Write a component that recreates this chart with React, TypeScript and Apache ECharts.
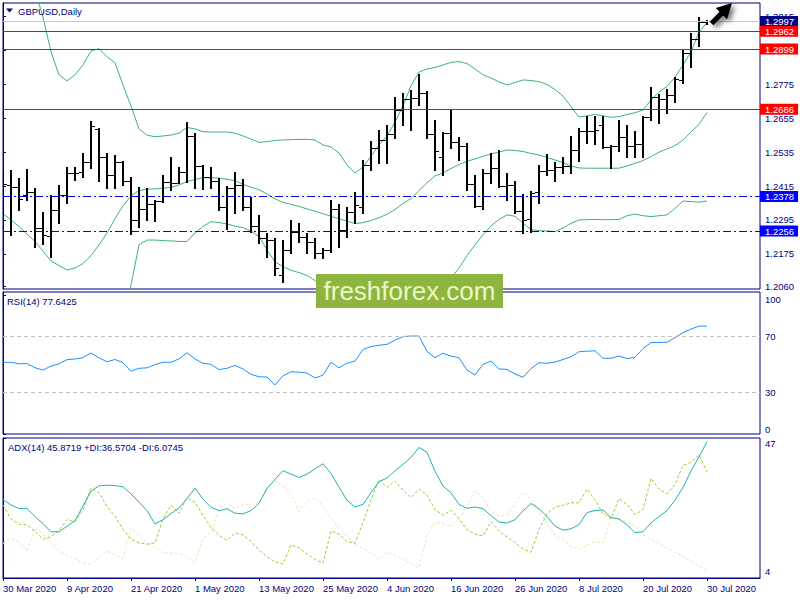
import React, { useEffect, useRef } from "react";
import * as echarts from "echarts";

const dates = [
  "30 Mar 2020", "31 Mar 2020",
  "1 Apr 2020", "2 Apr 2020", "3 Apr 2020", "6 Apr 2020", "7 Apr 2020", "8 Apr 2020", "9 Apr 2020", "10 Apr 2020",
  "13 Apr 2020", "14 Apr 2020", "15 Apr 2020", "16 Apr 2020", "17 Apr 2020", "20 Apr 2020", "21 Apr 2020", "22 Apr 2020",
  "23 Apr 2020", "24 Apr 2020", "27 Apr 2020", "28 Apr 2020", "29 Apr 2020", "30 Apr 2020",
  "1 May 2020", "4 May 2020", "5 May 2020", "6 May 2020", "7 May 2020", "8 May 2020", "11 May 2020", "12 May 2020",
  "13 May 2020", "14 May 2020", "15 May 2020", "18 May 2020", "19 May 2020", "20 May 2020", "21 May 2020", "22 May 2020",
  "25 May 2020", "26 May 2020", "27 May 2020", "28 May 2020", "29 May 2020",
  "1 Jun 2020", "2 Jun 2020", "3 Jun 2020", "4 Jun 2020", "5 Jun 2020", "8 Jun 2020", "9 Jun 2020", "10 Jun 2020",
  "11 Jun 2020", "12 Jun 2020", "15 Jun 2020", "16 Jun 2020", "17 Jun 2020", "18 Jun 2020", "19 Jun 2020", "22 Jun 2020",
  "23 Jun 2020", "24 Jun 2020", "25 Jun 2020", "26 Jun 2020", "29 Jun 2020", "30 Jun 2020",
  "1 Jul 2020", "2 Jul 2020", "3 Jul 2020", "6 Jul 2020", "7 Jul 2020", "8 Jul 2020", "9 Jul 2020", "10 Jul 2020",
  "13 Jul 2020", "14 Jul 2020", "15 Jul 2020", "16 Jul 2020", "17 Jul 2020", "20 Jul 2020", "21 Jul 2020", "22 Jul 2020",
  "23 Jul 2020", "24 Jul 2020", "27 Jul 2020", "28 Jul 2020", "29 Jul 2020", "30 Jul 2020",
];
const dateTickIdx = [0, 8, 16, 24, 32, 40, 48, 56, 64, 72, 80, 88];

const open = [
  1.2440, 1.2420, 1.2410, 1.2385, 1.2395, 1.2267, 1.2240, 1.2330, 1.2383, 1.2462,
  1.2465, 1.2501, 1.2617, 1.2518, 1.2454, 1.2500, 1.2434, 1.2295, 1.2334, 1.2351,
  1.2362, 1.2430, 1.2427, 1.2466, 1.2592, 1.2487, 1.2448, 1.2433, 1.2341, 1.2408,
  1.2420, 1.2340, 1.2275, 1.2232, 1.2224, 1.2100, 1.2189, 1.2251, 1.2236, 1.2218,
  1.2177, 1.2189, 1.2333, 1.2260, 1.2324, 1.2340, 1.2489, 1.2548, 1.2578, 1.2599,
  1.2684, 1.2722, 1.2725, 1.2745, 1.2599, 1.2519, 1.2604, 1.2572, 1.2557, 1.2421,
  1.2346, 1.2460, 1.2480, 1.2415, 1.2419, 1.2328, 1.2300, 1.2395, 1.2469, 1.2472,
  1.2481, 1.2486, 1.2542, 1.2610, 1.2611, 1.2630, 1.2552, 1.2557, 1.2587, 1.2558,
  1.2565, 1.2658, 1.2729, 1.2724, 1.2737, 1.2790, 1.2884, 1.2934, 1.2995,
];
const high = [
  1.2466, 1.2472, 1.2443, 1.2474, 1.2408, 1.2323, 1.2383, 1.2419, 1.2482, 1.2483,
  1.2533, 1.2645, 1.2620, 1.2532, 1.2525, 1.2503, 1.2447, 1.2412, 1.2408, 1.2366,
  1.2454, 1.2518, 1.2483, 1.2641, 1.2602, 1.2490, 1.2482, 1.2443, 1.2415, 1.2466,
  1.2440, 1.2377, 1.2313, 1.2250, 1.2231, 1.2224, 1.2295, 1.2284, 1.2249, 1.2231,
  1.2196, 1.2366, 1.2352, 1.2342, 1.2395, 1.2507, 1.2575, 1.2613, 1.2631, 1.2731,
  1.2744, 1.2755, 1.2811, 1.2752, 1.2648, 1.2607, 1.2686, 1.2587, 1.2566, 1.2454,
  1.2474, 1.2531, 1.2542, 1.2460, 1.2434, 1.2387, 1.2398, 1.2489, 1.2527, 1.2501,
  1.2517, 1.2592, 1.2619, 1.2663, 1.2662, 1.2663, 1.2560, 1.2648, 1.2630, 1.2610,
  1.2663, 1.2764, 1.2740, 1.2757, 1.2799, 1.2898, 1.2955, 1.3014, 1.3001,
];
const low = [
  1.2313, 1.2242, 1.2330, 1.2365, 1.2200, 1.2210, 1.2164, 1.2285, 1.2355, 1.2436,
  1.2448, 1.2479, 1.2434, 1.2408, 1.2408, 1.2418, 1.2245, 1.2270, 1.2295, 1.2293,
  1.2360, 1.2401, 1.2426, 1.2430, 1.2408, 1.2405, 1.2408, 1.2330, 1.2263, 1.2320,
  1.2330, 1.2254, 1.2213, 1.2165, 1.2100, 1.2077, 1.2178, 1.2218, 1.2178, 1.2160,
  1.2160, 1.2183, 1.2200, 1.2236, 1.2283, 1.2319, 1.2472, 1.2495, 1.2498, 1.2584,
  1.2631, 1.2613, 1.2701, 1.2584, 1.2472, 1.2454, 1.2548, 1.2507, 1.2401, 1.2342,
  1.2333, 1.2425, 1.2413, 1.2366, 1.2321, 1.2248, 1.2254, 1.2356, 1.2454, 1.2434,
  1.2460, 1.2460, 1.2505, 1.2566, 1.2564, 1.2548, 1.2478, 1.2540, 1.2519, 1.2518,
  1.2519, 1.2648, 1.2639, 1.2672, 1.2713, 1.2778, 1.2837, 1.2910, 1.2988,
];
const close = [
  1.2421, 1.2410, 1.2368, 1.2395, 1.2267, 1.2242, 1.2330, 1.2383, 1.2462, 1.2462,
  1.2501, 1.2627, 1.2518, 1.2454, 1.2500, 1.2434, 1.2295, 1.2334, 1.2351, 1.2362,
  1.2430, 1.2427, 1.2466, 1.2592, 1.2487, 1.2448, 1.2433, 1.2341, 1.2408, 1.2420,
  1.2340, 1.2275, 1.2232, 1.2224, 1.2125, 1.2189, 1.2251, 1.2236, 1.2218, 1.2177,
  1.2189, 1.2333, 1.2260, 1.2324, 1.2348, 1.2489, 1.2548, 1.2578, 1.2599, 1.2684,
  1.2722, 1.2725, 1.2745, 1.2599, 1.2540, 1.2604, 1.2572, 1.2557, 1.2421, 1.2346,
  1.2460, 1.2480, 1.2415, 1.2419, 1.2328, 1.2295, 1.2390, 1.2469, 1.2472, 1.2481,
  1.2486, 1.2542, 1.2610, 1.2611, 1.2614, 1.2552, 1.2557, 1.2587, 1.2558, 1.2565,
  1.2658, 1.2729, 1.2724, 1.2737, 1.2792, 1.2884, 1.2934, 1.2995, 1.2997,
];

const bbUpper = [
  1.3350, 1.3300, 1.3220, 1.3140, 1.3108, 1.3012, 1.2889, 1.2808, 1.2787, 1.2808,
  1.2843, 1.2892, 1.2901, 1.2872, 1.2851, 1.2772, 1.2698, 1.2617, 1.2595, 1.2589,
  1.2592, 1.2595, 1.2602, 1.2622, 1.2617, 1.2607, 1.2606, 1.2606, 1.2606, 1.2602,
  1.2592, 1.2581, 1.2569, 1.2572, 1.2576, 1.2578, 1.2579, 1.2580, 1.2580, 1.2578,
  1.2560, 1.2553, 1.2532, 1.2489, 1.2461, 1.2482, 1.2521, 1.2560, 1.2592, 1.2641,
  1.2698, 1.2769, 1.2818, 1.2829, 1.2834, 1.2843, 1.2852, 1.2855, 1.2848, 1.2829,
  1.2808, 1.2797, 1.2783, 1.2772, 1.2781, 1.2790, 1.2788, 1.2784, 1.2774, 1.2756,
  1.2733, 1.2696, 1.2659, 1.2663, 1.2668, 1.2663, 1.2658, 1.2660, 1.2668, 1.2674,
  1.2684, 1.2719, 1.2747, 1.2767, 1.2800, 1.2843, 1.2890, 1.2959, 1.2993,
];
const bbMiddle = [
  1.2317, 1.2295, 1.2272, 1.2245, 1.2219, 1.2185, 1.2150, 1.2134, 1.2118, 1.2125,
  1.2141, 1.2169, 1.2207, 1.2249, 1.2300, 1.2345, 1.2380, 1.2399, 1.2404, 1.2405,
  1.2407, 1.2410, 1.2419, 1.2431, 1.2438, 1.2445, 1.2444, 1.2443, 1.2439, 1.2434,
  1.2421, 1.2411, 1.2402, 1.2387, 1.2370, 1.2357, 1.2350, 1.2343, 1.2334, 1.2326,
  1.2317, 1.2308, 1.2299, 1.2291, 1.2282, 1.2286, 1.2293, 1.2303, 1.2315, 1.2332,
  1.2353, 1.2371, 1.2399, 1.2427, 1.2451, 1.2461, 1.2477, 1.2491, 1.2502, 1.2511,
  1.2520, 1.2528, 1.2535, 1.2542, 1.2541, 1.2537, 1.2530, 1.2525, 1.2516, 1.2507,
  1.2498, 1.2486, 1.2479, 1.2478, 1.2478, 1.2478, 1.2478, 1.2478, 1.2486, 1.2495,
  1.2505, 1.2519, 1.2535, 1.2546, 1.2558, 1.2578, 1.2606, 1.2633, 1.2675,
];
const bbLower = [
  1.1280, 1.1290, 1.1320, 1.1350, 1.1330, 1.1360, 1.1410, 1.1460, 1.1450, 1.1440,
  1.1440, 1.1450, 1.1510, 1.1630, 1.1750, 1.1920, 1.2065, 1.2207, 1.2224, 1.2224,
  1.2222, 1.2221, 1.2219, 1.2219, 1.2249, 1.2272, 1.2289, 1.2286, 1.2281, 1.2273,
  1.2268, 1.2256, 1.2237, 1.2189, 1.2147, 1.2130, 1.2117, 1.2109, 1.2099, 1.2081,
  1.2055, 1.2020, 1.1980, 1.1930, 1.1880, 1.1900, 1.1910, 1.1900, 1.1890, 1.1870,
  1.1860, 1.1850, 1.1900, 1.1970, 1.2000, 1.2041, 1.2090, 1.2125, 1.2169, 1.2207,
  1.2243, 1.2274, 1.2297, 1.2313, 1.2308, 1.2284, 1.2261, 1.2257, 1.2256, 1.2254,
  1.2267, 1.2283, 1.2295, 1.2296, 1.2297, 1.2296, 1.2296, 1.2297, 1.2310, 1.2316,
  1.2310, 1.2307, 1.2310, 1.2313, 1.2336, 1.2362, 1.2360, 1.2358, 1.2362,
];

const rsi = [
  51.6, 51.6, 50.5, 50.7, 47.7, 46.0, 48.9, 50.5, 53.5, 54.0,
  55.0, 58.3, 54.8, 52.0, 53.6, 51.3, 45.2, 47.3, 47.6, 50.0,
  51.6, 51.6, 54.1, 58.5, 54.0, 50.9, 50.1, 46.4, 47.3, 49.4,
  46.8, 43.0, 41.2, 41.0, 35.3, 41.9, 44.8, 44.5, 43.9, 40.3,
  42.4, 51.6, 47.7, 50.9, 52.5, 60.8, 62.9, 63.9, 64.5, 67.6,
  70.1, 70.5, 70.5, 59.4, 54.9, 58.1, 56.1, 54.9, 46.0, 42.4,
  50.1, 52.5, 46.8, 46.5, 43.2, 40.8, 47.1, 51.3, 50.9, 51.8,
  53.6, 55.6, 59.2, 59.6, 59.9, 54.5, 54.5, 56.1, 54.3, 55.2,
  61.5, 65.8, 65.9, 66.0, 69.3, 73.0, 75.5, 77.6, 77.64,
];
const adx = [
  28.1, 26.4, 25.3, 25.3, 22.9, 20.7, 18.2, 18.2, 19.9, 21.6,
  26.1, 30.7, 32.3, 32.5, 32.4, 32.0, 29.8, 27.3, 24.7, 20.6,
  21.9, 23.8, 25.5, 28.4, 31.6, 28.2, 25.7, 24.7, 25.3, 23.9,
  23.7, 24.7, 26.9, 31.5, 34.3, 37.0, 35.9, 34.9, 35.9, 37.5,
  39.1, 36.1, 31.9, 27.9, 25.8, 26.6, 30.2, 33.6, 34.7, 36.9,
  38.9, 41.1, 44.1, 42.6, 36.8, 32.2, 30.2, 26.6, 25.4, 25.8,
  25.3, 23.2, 21.2, 20.9, 21.9, 24.6, 26.9, 25.3, 22.9, 19.9,
  18.7, 19.1, 20.4, 24.1, 24.7, 24.9, 22.6, 22.1, 20.4, 17.9,
  18.2, 20.9, 22.9, 24.7, 27.9, 31.8, 36.9, 41.2, 45.87,
];
const plusDI = [
  26.4, 22.2, 20.5, 20.4, 18.3, 15.9, 16.7, 18.6, 21.9, 21.3,
  24.9, 31.6, 30.2, 25.9, 23.0, 19.0, 15.9, 14.8, 14.4, 14.8,
  22.2, 26.4, 23.9, 28.6, 27.3, 23.3, 19.5, 17.1, 15.6, 17.8,
  17.3, 15.2, 12.6, 10.5, 9.0, 8.3, 14.2, 13.3, 11.4, 9.7,
  8.6, 18.4, 17.5, 15.2, 14.6, 21.1, 27.9, 34.2, 31.8, 33.8,
  31.0, 28.7, 31.3, 29.5, 25.0, 23.3, 24.8, 22.1, 18.9, 17.4,
  16.9, 21.3, 18.4, 16.6, 14.9, 12.9, 11.9, 18.9, 23.6, 25.8,
  26.3, 27.1, 27.1, 31.3, 28.0, 23.8, 22.2, 28.4, 26.6, 23.5,
  25.0, 34.6, 31.3, 29.9, 32.7, 38.6, 39.5, 41.8, 36.57,
];
const minusDI = [
  14.6, 16.2, 15.0, 12.4, 19.5, 17.4, 15.0, 12.3, 11.0, 9.9,
  8.7, 8.2, 10.4, 12.4, 11.0, 10.2, 19.3, 17.0, 14.7, 13.4,
  11.7, 11.7, 11.4, 10.6, 8.6, 16.2, 18.1, 25.2, 27.0, 25.3,
  26.6, 26.6, 27.0, 31.7, 33.9, 32.3, 29.9, 24.4, 27.4, 28.6,
  26.2, 22.5, 19.2, 16.7, 14.5, 13.0, 11.7, 9.8, 11.9, 11.0,
  9.6, 8.3, 7.2, 17.2, 21.2, 20.7, 19.8, 22.2, 26.1, 30.7,
  28.6, 24.6, 23.0, 23.5, 26.6, 30.3, 28.3, 24.6, 20.8, 17.0,
  15.8, 13.8, 12.9, 14.1, 15.2, 14.8, 22.5, 22.3, 21.2, 20.1,
  17.3, 15.9, 14.6, 13.2, 11.9, 10.7, 9.2, 7.7, 6.07,
];

const priceTicks = [1.3015, 1.2895, 1.2775, 1.2655, 1.2535, 1.2415, 1.2295, 1.2175, 1.206];
const rsiTicks = [0, 30, 70, 100];
const rsiLevels = [70, 30];
const adxTicks = [4, 47];
const redLevels = [1.2962, 1.2899, 1.2686];
const blueLevels = [1.2378, 1.2256];
const lastPrice = 1.2997;

const symbolText = "GBPUSD,Daily";
const rsiText = "RSI(14) 77.6425";
const adxText = "ADX(14) 45.8719 +DI:36.5704 -DI:6.0745";
const watermarkText = "freshforex.com";

const NAVY = "#000080";
const FONT = "Liberation Sans";
const FS = 9.5;
const BAND = "#3cb371";

function levelLabel(text: string, bg: string) {
  return {
    show: true,
    position: "end",
    distance: 0,
    formatter: text,
    color: "#ffffff",
    backgroundColor: bg,
    padding: [1, 4, 0, 5],
    fontFamily: FONT,
    fontSize: FS,
  };
}

function arrowPoints() {
  const tipX = 732, tipY = 3;
  const base = [[0, 0], [8, 15], [2.6, 15], [2.6, 29], [-2.6, 29], [-2.6, 15], [-8, 15]];
  const c = Math.cos(Math.PI / 4), s = Math.sin(Math.PI / 4);
  return base.map(([px, py]) => [tipX + px * c - py * s, tipY + px * s + py * c]);
}

export default function App() {
  const ref = useRef<HTMLDivElement>(null);
  useEffect(() => {
    const chart = echarts.init(ref.current!, null, { renderer: "svg" });
    const xBase = { type: "value", min: 0, max: 94.625, splitLine: { show: false } };
    const yBase = {
      type: "value",
      position: "right",
      splitLine: { show: false },
      axisLine: { show: true, lineStyle: { color: NAVY, width: 1 } },
    };
    const lineS = (data: number[], color: string, xi: number, extra: any = {}) => ({
      type: "line",
      xAxisIndex: xi,
      yAxisIndex: xi,
      data: data.map((v, i) => [i, v]),
      symbol: "none",
      showSymbol: false,
      clip: true,
      silent: true,
      lineStyle: { color, width: 1, ...(extra.lineStyle || {}) },
      itemStyle: { color },
      ...extra.rest,
    });

    const option: any = {
      animation: false,
      backgroundColor: "#ffffff",
      grid: [
        { left: 3, right: 40, top: 3, height: 286, show: true, borderColor: NAVY, borderWidth: 1, backgroundColor: "transparent" },
        { left: 3, right: 40, top: 292, height: 142, show: true, borderColor: NAVY, borderWidth: 1, backgroundColor: "transparent" },
        { left: 3, right: 40, top: 438, height: 140, show: true, borderColor: NAVY, borderWidth: 1, backgroundColor: "transparent" },
      ],
      xAxis: [
        { ...xBase, gridIndex: 0, show: false },
        { ...xBase, gridIndex: 1, show: false },
        {
          ...xBase,
          gridIndex: 2,
          axisLine: { show: true, lineStyle: { color: NAVY } },
          axisTick: { show: true, length: 3, customValues: dateTickIdx, lineStyle: { color: NAVY } },
          axisLabel: {
            show: true,
            customValues: dateTickIdx,
            formatter: (v: number) => dates[Math.round(v)] || "",
            color: NAVY,
            fontFamily: FONT,
            fontSize: FS,
            align: "left",
            margin: 5,
          },
        },
      ],
      yAxis: [
        {
          ...yBase,
          gridIndex: 0,
          min: 1.2051,
          max: 1.3062,
          axisTick: { show: true, length: 3, customValues: priceTicks, lineStyle: { color: NAVY } },
          axisLabel: {
            customValues: priceTicks,
            formatter: (v: number) => v.toFixed(4),
            color: NAVY,
            fontFamily: FONT,
            fontSize: FS,
            margin: 5,
          },
        },
        {
          ...yBase,
          gridIndex: 1,
          min: 0,
          max: 102.2,
          axisTick: { show: true, length: 3, customValues: rsiTicks, lineStyle: { color: NAVY } },
          axisLabel: {
            customValues: rsiTicks,
            formatter: (v: number) => (v === 100 ? "{a|100}" : v === 0 ? "{b|0}" : String(v)),
            color: NAVY,
            fontFamily: FONT,
            fontSize: FS,
            margin: 5,
            rich: {
              a: { padding: [8, 0, 0, 0], color: NAVY, fontFamily: FONT, fontSize: FS },
              b: { padding: [0, 0, 10, 0], color: NAVY, fontFamily: FONT, fontSize: FS },
            },
          },
        },
        {
          ...yBase,
          gridIndex: 2,
          min: 4,
          max: 47,
          axisTick: { show: true, length: 3, customValues: adxTicks, lineStyle: { color: NAVY } },
          axisLabel: {
            customValues: adxTicks,
            formatter: (v: number) => (v === 47 ? "{a|47}" : "{b|4}"),
            color: NAVY,
            fontFamily: FONT,
            fontSize: FS,
            margin: 5,
            rich: {
              a: { padding: [11, 0, 0, 0], color: NAVY, fontFamily: FONT, fontSize: FS },
              b: { padding: [0, 0, 13, 0], color: NAVY, fontFamily: FONT, fontSize: FS },
            },
          },
        },
      ],
      series: [
        lineS(bbUpper, BAND, 0, {
          rest: {
            markLine: {
              silent: true,
              precision: 4,
              symbol: ["none", "none"],
              animation: false,
              data: [
                { yAxis: lastPrice, lineStyle: { color: "#c8c8c8", type: "solid", width: 1 }, label: levelLabel(lastPrice.toFixed(4), NAVY) },
                ...redLevels.map((v) => ({
                  yAxis: v,
                  lineStyle: { color: "#ff0000", type: "solid", width: 1 },
                  label: levelLabel(v.toFixed(4), "#ff0000"),
                })),
                ...blueLevels.map((v) => ({
                  yAxis: v,
                  lineStyle: { color: "#0000ff", type: [8, 3, 2, 3], width: 1 },
                  label: levelLabel(v.toFixed(4), "#0000ff"),
                })),
              ],
            },
          },
        }),
        lineS(bbMiddle, BAND, 0),
        lineS(bbLower, BAND, 0),
        {
          type: "custom",
          xAxisIndex: 0,
          yAxisIndex: 0,
          clip: true,
          silent: true,
          z: 4,
          encode: { x: 0, y: [1, 2, 3, 4] },
          data: open.map((o, i) => [i, o, high[i], low[i], close[i]]),
          renderItem: (_p: any, api: any) => {
            const i = api.value(0);
            const pO = api.coord([i, api.value(1)]);
            const pH = api.coord([i, api.value(2)]);
            const pL = api.coord([i, api.value(3)]);
            const pC = api.coord([i, api.value(4)]);
            const x = Math.round(pH[0]);
            const yo = Math.round(pO[1]) + 0.5;
            const yc = Math.round(pC[1]) + 0.5;
            return {
              type: "group",
              children: [
                { type: "line", shape: { x1: x, y1: Math.round(pH[1]), x2: x, y2: Math.round(pL[1]) + 1 }, style: { stroke: "#000", lineWidth: 2 } },
                { type: "line", shape: { x1: x - 4, y1: yo, x2: x, y2: yo }, style: { stroke: "#000", lineWidth: 1 } },
                { type: "line", shape: { x1: x, y1: yc, x2: x + 4, y2: yc }, style: { stroke: "#000", lineWidth: 1 } },
              ],
            };
          },
        },
        lineS(rsi, "#1e90ff", 1, {
          rest: {
            markLine: {
              silent: true,
              precision: 4,
              symbol: ["none", "none"],
              animation: false,
              label: { show: false },
              lineStyle: { color: "#c0c0c0", type: [4, 3], width: 1 },
              data: rsiLevels.map((v) => ({ yAxis: v })),
            },
          },
        }),
        lineS(minusDI, "#f5deb3", 2, { lineStyle: { type: [3, 2] } }),
        lineS(plusDI, "#9acd32", 2, { lineStyle: { type: [3, 2] } }),
        lineS(adx, "#20b2aa", 2),
      ],
      graphic: [
        { type: "polygon", shape: { points: [[6, 8.5], [13, 8.5], [9.5, 12.5]] }, style: { fill: NAVY }, z: 50 },
        { type: "text", x: 18, y: 11, style: { text: symbolText, fill: NAVY, font: `${FS}px "${FONT}"`, verticalAlign: "middle" }, z: 50 },
        { type: "text", x: 7, y: 301, style: { text: rsiText, fill: NAVY, font: `${FS}px "${FONT}"`, verticalAlign: "middle" }, z: 50 },
        { type: "text", x: 8, y: 447, style: { text: adxText, fill: NAVY, font: `${FS}px "${FONT}"`, verticalAlign: "middle" }, z: 50 },
        { type: "rect", shape: { x: 316, y: 274, width: 187, height: 34 }, style: { fill: "#8db53f" }, z: 100 },
        {
          type: "text",
          x: 409.5,
          y: 291,
          style: { text: watermarkText, fill: "#ecf7c2", font: `26px "${FONT}"`, align: "center", verticalAlign: "middle" },
          z: 101,
        },
        {
          type: "polygon",
          shape: { points: arrowPoints() },
          style: { fill: "#000", shadowBlur: 5, shadowColor: "rgba(0,0,0,0.55)", shadowOffsetX: 3, shadowOffsetY: 3 },
          z: 100,
        },
      ],
    };
    chart.setOption(option);
    return () => chart.dispose();
  }, []);
  return (
    <div
      ref={ref}
      style={{ position: "fixed", left: 0, top: 0, width: 800, height: 600, background: "#fff" }}
    />
  );
}
